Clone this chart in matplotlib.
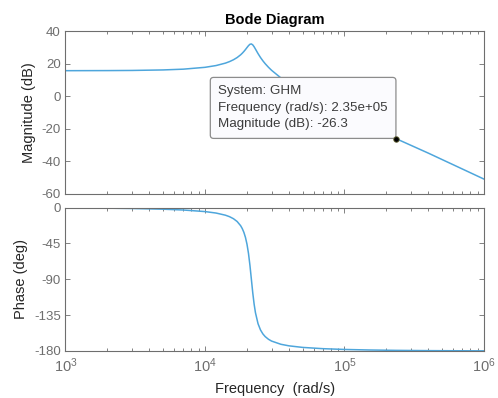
import matplotlib
matplotlib.use("Agg")
import matplotlib.pyplot as plt
from matplotlib.ticker import LogLocator, NullFormatter, FixedLocator

plt.rcParams['font.family'] = ['Liberation Sans', 'DejaVu Sans']
plt.rcParams['axes.unicode_minus'] = False

# frequency response of GHM, sampled on rad/s
freq = [1e3, 2e3, 3e3, 5e3, 7e3, 1e4, 1.2e4, 1.4e4, 1.5e4, 1.6e4, 1.7e4,
        1.8e4, 1.85e4, 1.9e4, 1.95e4, 2.0e4, 2.05e4, 2.1e4, 2.15e4, 2.2e4,
        2.25e4, 2.3e4, 2.4e4, 2.5e4, 2.6e4, 2.7e4, 2.85e4, 3e4, 3.5e4, 4e4,
        5e4, 7e4, 1e5, 1.5e5, 2.35e5, 4e5, 6e5, 1e6]
mag_db = [15.58, 15.64, 15.73, 16.04, 16.52, 17.65, 18.74, 20.23, 21.18, 22.31, 23.67,
          25.34, 26.32, 27.40, 28.58, 29.81, 30.98, 31.84, 32.04, 31.45,
          30.29, 28.88, 26.09, 23.68, 21.64, 19.90, 17.69, 15.83, 11.12, 7.68,
          2.65, -4.09, -10.73, -18.00, -26.3, -35.20, -42.25, -51.14]
phase_deg = [-0.40, -0.81, -1.22, -2.11, -3.13, -5.09, -6.93, -9.62, -11.52, -14.05, -17.56,
             -22.77, -26.45, -31.18, -37.49, -46.02, -57.57, -72.58, -90.0, -107.06,
             -121.23, -131.97, -145.77, -153.63, -158.58, -161.92, -165.28, -167.54, -171.58, -173.53,
             -175.48, -177.09, -178.06, -178.74, -179.21, -179.54, -179.69, -179.82]

# data tip
tip_freq = 2.35e5
tip_mag = -26.3

line_color = '#4ea6dc'
axis_color = '#6e6e6e'
label_color = '#262626'

fig = plt.figure(figsize=(4.98, 3.98), dpi=100)
ax1 = fig.add_axes([0.1315, 0.5138, 0.8404, 0.4083])
ax2 = fig.add_axes([0.1315, 0.1181, 0.8404, 0.3605])

ax1.plot(freq, mag_db, color=line_color, lw=1.1, zorder=2)
ax2.plot(freq, phase_deg, color=line_color, lw=1.1, zorder=2)

for ax in (ax1, ax2):
    ax.set_xscale('log')
    ax.set_xlim(1e3, 1e6)
    ax.xaxis.set_major_locator(LogLocator(base=10, numticks=10))
    ax.xaxis.set_minor_locator(LogLocator(base=10, subs=range(2, 10), numticks=10))
    ax.xaxis.set_minor_formatter(NullFormatter())
    ax.tick_params(which='both', direction='in', top=True, right=True,
                   colors=axis_color, labelsize=9.5, width=0.6)
    ax.tick_params(which='major', length=3.5)
    ax.tick_params(which='minor', length=2)
    for s in ax.spines.values():
        s.set_color(axis_color)
        s.set_linewidth(0.8)

ax1.set_ylim(-60, 40)
ax1.yaxis.set_major_locator(FixedLocator([-60, -40, -20, 0, 20, 40]))
ax1.tick_params(axis='x', labelbottom=False)
ax1.set_ylabel('Magnitude (dB)', fontsize=10.5, color=label_color, labelpad=4)
ax1.set_title('Bode Diagram', fontsize=10.5, fontweight='bold', color='black', pad=5)

ax2.set_ylim(-180, 0)
ax2.yaxis.set_major_locator(FixedLocator([-180, -135, -90, -45, 0]))
ax2.tick_params(axis='x', labelsize=10.5, pad=4)
ax2.set_ylabel('Phase (deg)', fontsize=10.5, color=label_color, labelpad=4)
ax2.set_xlabel('Frequency  (rad/s)', fontsize=10.5, color=label_color, labelpad=5)

# data tip marker and box
ax1.plot([tip_freq], [tip_mag], 'o', ms=4, mfc='black', mec='#6b6b3a', mew=0.6, zorder=5)
ax1.annotate('System: GHM\nFrequency (rad/s): %.2e\nMagnitude (dB): %.1f' % (tip_freq, tip_mag),
             xy=(tip_freq, tip_mag), xytext=(-6, 6), textcoords='offset points',
             ha='right', va='bottom', multialignment='left', fontsize=9.6,
             color='#3c3c3c', linespacing=1.5,
             bbox=dict(boxstyle='round,pad=0.6,rounding_size=0.25', fc='#fbfbfe', ec='#8c8c8c', lw=0.9),
             zorder=4)

fig.savefig('out.png', dpi=100)
